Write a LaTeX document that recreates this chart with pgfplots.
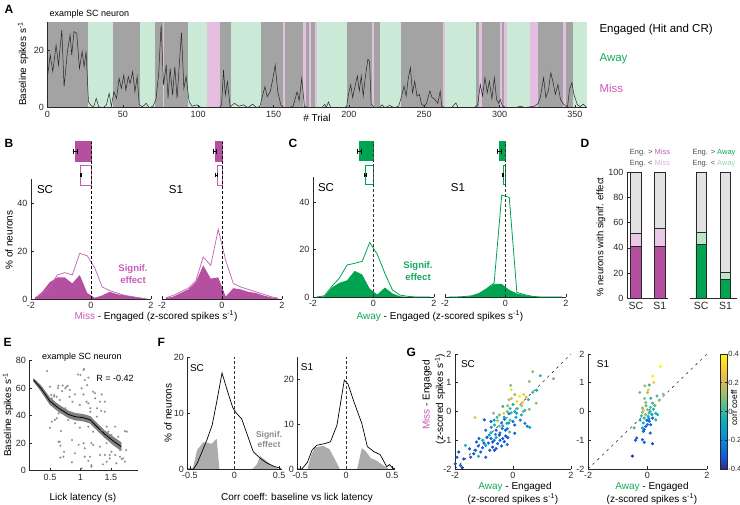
\documentclass[border=0pt]{standalone}
\usepackage{fontspec}
\setmainfont{Liberation Sans}
\usepackage{pgfplots}
\pgfplotsset{compat=1.18}

\definecolor{engray}{RGB}{163,163,163}
\definecolor{awaybg}{RGB}{202,233,214}
\definecolor{missbg}{RGB}{228,191,224}
\definecolor{missdk}{RGB}{181,80,160}
\definecolor{missln}{RGB}{192,95,178}
\definecolor{misslt}{RGB}{232,202,230}
\definecolor{awaydk}{RGB}{0,163,80}
\definecolor{awaylt}{RGB}{190,228,204}
\definecolor{barg}{RGB}{226,226,228}
\definecolor{sigg}{RGB}{172,172,172}
\definecolor{axc}{RGB}{40,40,40}
\definecolor{misstx}{RGB}{200,90,185}
\definecolor{awaytx}{RGB}{20,170,90}
\definecolor{missltx}{RGB}{228,170,222}
\definecolor{awayltx}{RGB}{150,215,175}

\pgfplotsset{
  colormap={parula}{rgb255=(53,42,135) rgb255=(15,92,221) rgb255=(18,125,216) rgb255=(7,156,207) rgb255=(21,177,180) rgb255=(89,189,140) rgb255=(165,190,107) rgb255=(225,185,82) rgb255=(252,206,46) rgb255=(249,251,14)},
  panel/.style={scale only axis, anchor=south west, axis lines=left,
    axis line style={-, axc, line width=0.6pt}, tick align=inside,
    major tick length=2.5pt, tick style={axc, line width=0.6pt},
    ticklabel style={font=\fontsize{9}{10}\selectfont, text=axc},
    /pgf/number format/assume math mode=true, clip=false, enlargelimits=false},
  whisk/.style={black, line width=0.7pt, mark=|, mark size=2.6pt, mark options={solid, line width=0.7pt}},
}
\newcommand\lb{\fontsize{10}{11}\selectfont}
\newcommand\pl{\fontsize{12}{14}\selectfont\bfseries}
\newcommand\band[3]{\addplot[fill=#3, draw=none] coordinates {(#1,0) (#2,0) (#2,29.6) (#1,29.6)} -- cycle;}

\begin{document}
\begin{tikzpicture}[x=1pt,y=1pt]
\path[use as bounding box] (0,0) rectangle (740,505);

% ---------------- A: baseline firing across trials ----------------
\begin{axis}[panel, at={(47.5pt,397.3pt)}, width=539.5pt, height=85.4pt,
  xmin=0, xmax=358, ymin=0, ymax=29.6, xtick={0,50,...,350}, ytick={0,20}, axis on top]
\band{0}{27.1}{engray} \band{27.1}{43.2}{awaybg} \band{43.2}{61.4}{engray}
\band{61.4}{71.3}{awaybg} \band{71.3}{76.4}{engray} \band{76.4}{77.5}{missbg}
\band{77.5}{93.4}{engray} \band{93.4}{105.6}{awaybg} \band{105.6}{114.5}{missbg}
\band{114.5}{121.8}{engray} \band{121.8}{141.7}{awaybg} \band{141.7}{156.5}{engray}
\band{156.5}{157.6}{missbg} \band{157.6}{169.7}{engray} \band{169.7}{171.3}{missbg}
\band{171.3}{173.7}{engray} \band{173.7}{174.6}{missbg} \band{174.6}{177.5}{engray}
\band{177.5}{178.6}{missbg} \band{178.6}{198.5}{awaybg} \band{198.5}{215}{engray}
\band{215}{216.7}{missbg} \band{216.7}{220.6}{engray} \band{220.6}{234.6}{awaybg}
\band{234.6}{262.2}{engray} \band{262.2}{263.8}{missbg} \band{263.8}{284.3}{awaybg}
\band{284.3}{286.2}{engray} \band{286.2}{288}{missbg} \band{288}{300.3}{engray}
\band{300.3}{301.4}{missbg} \band{301.4}{303.2}{engray} \band{303.2}{304.7}{missbg}
\band{304.7}{320.2}{awaybg} \band{320.2}{325.7}{missbg} \band{325.7}{342.3}{engray}
\band{342.3}{344}{missbg} \band{344}{349}{engray} \band{349}{358}{awaybg}
\addplot[black!85, line width=0.5pt] coordinates {
(0,10.7)(1.8,18.3)(3.5,12.5)(5.7,21.7)(7.3,14.8)(9.5,27)(11,7.3)(13.2,19.4)(15,25.2)(16.1,18.3)
(17.6,26.4)(19.4,25.8)(21.2,13.6)(23,19.4)(24.3,14.2)(25.6,19.4)(27.2,2)(28.5,1)(30.5,0)(32.3,3.2)
(34,0.3)(37,0)(39.1,1)(40.9,5)(42.4,0.5)(44,5.5)(45.8,3.2)(47.5,10.2)(49,6.7)(50.6,11.3)
(52,6.1)(53.6,10.8)(54.8,8.4)(56.5,12.5)(58,5.5)(59.5,10.8)(60.9,1)(63,0.3)(65.5,1.5)(67.5,0)
(70,0.5)(72,3)(73.8,12)(75.4,28.7)(77,7.9)(78.8,14.8)(80,3.2)(81.4,13.6)(83,4.4)(84.5,14.2)
(86,3.2)(87.6,16)(88.9,26)(90.5,6.7)(92,10.8)(94,2)(96,0.5)(99,1)(102,0)(106,0)
(110,0)(114,0)(115.5,1)(116.8,13)(118,4.4)(119.4,9)(121.2,0.3)(124,1.5)(127,0.5)(130,1)
(133,0)(136,1.2)(139,0)(141,0.5)(142.8,4.4)(144.3,7.3)(145.8,3.8)(147.8,5.5)(149.6,10.2)(151.1,14.8)
(152.8,5.5)(154.8,1)(157,0)(160,0)(163,0.5)(165.6,5.5)(167,2.5)(168.7,10.2)(170.5,0.5)(173,0)
(178,0)(182,0)(184.1,1.2)(185,0)(186.4,2)(188,0)(192,0)(197,0)(198.5,0.5)(199.7,4.6)
(201.2,8)(202.5,3.5)(204.1,7.5)(205.6,11)(206.9,5.8)(208.2,11)(209.5,4)(211,11)(212.6,16.8)(213.7,16)
(214.8,1.2)(217,0)(220,0)(222,1)(224,0)(227,0.8)(230,0)(233,0.5)(235,4)(236.6,7.5)
(238,4)(239.3,9.8)(240.8,13.9)(242.2,5.2)(243.7,9.2)(245.2,4)(246.8,4.6)(248.2,1.2)(250,0.5)(251.5,1.5)
(253.7,5.8)(255.2,3.5)(257,2.9)(259,1.5)(260.6,5.8)(261.6,0.5)(264,0)(268,0)(271,1.7)(272.5,0)
(278,0)(283,0)(285.5,1)(287.2,8)(288.7,4)(290.3,10.4)(291.8,5.2)(293.2,9.2)(294.9,3)(296.5,10.4)
(298,2.9)(299.5,1.5)(300.4,2.9)(302,0.5)(305,0)(310,0)(314,0.5)(317,0)(320,0.3)(323,0.5)
(325.5,1.4)(327,3.5)(329.2,10.4)(330.7,3.5)(332.3,5.8)(334,12.1)(335.5,8.7)(337,4.6)(338.7,8)(340.4,2.9)
(342,1.5)(344,0.5)(345,0)(346.4,6.4)(348,8.7)(349.3,4.6)(351.5,1.2)(353.5,0.3)(355.5,1.2)(357.5,0.3)};
\end{axis}

% ---------------- B: Miss - Engaged ----------------
\begin{axis}[panel, at={(31pt,206pt)}, width=120pt, height=120pt,
  xmin=-2, xmax=2, ymin=0, ymax=50, xtick={-2,0,2}, ytick={0,20,40}]
\addplot[fill=missdk, draw=none] coordinates {(-1.875,0.3)(-1.625,3)(-1.375,7)(-1.125,9)(-0.875,9)(-0.625,6.5)(-0.375,10)(-0.125,2.5)(0.125,0.5)(0.375,1.5)(0.625,3)(0.875,2)(1.125,1.5)(1.375,1)(1.625,0.5)(1.875,0)} \closedcycle;
\addplot[missln, line width=0.7pt] coordinates {(-1.875,0.5)(-1.625,2)(-1.375,5)(-1.125,10)(-0.875,11)(-0.625,10)(-0.375,19)(-0.125,18)(0.125,13)(0.375,5)(0.625,3.5)(0.875,2.5)(1.125,1.5)(1.375,1)(1.625,0.5)(1.875,0)};
\addplot[fill=missdk, draw=missdk, line width=0.6pt] coordinates {(-0.53,57.5)(0,57.5)(0,65.5)(-0.53,65.5)} -- cycle;
\addplot[fill=white, draw=missln, line width=0.6pt] coordinates {(-0.34,47.5)(0,47.5)(0,55.5)(-0.34,55.5)} -- cycle;
\addplot[whisk] coordinates {(-0.6,61.5)(-0.46,61.5)};
\addplot[whisk, mark size=2pt] coordinates {(-0.37,51.5)(-0.31,51.5)};
\addplot[black, line width=0.6pt, dash pattern=on 3pt off 2pt] coordinates {(0,0)(0,65.5)};
\end{axis}
\begin{axis}[panel, at={(162pt,206pt)}, width=120pt, height=120pt,
  xmin=-2, xmax=2, ymin=0, ymax=50, xtick={-2,0,2}, hide y axis]
\addplot[fill=missdk, draw=none] coordinates {(-1.875,0.3)(-1.625,1)(-1.375,2.5)(-1.125,4)(-0.875,7)(-0.625,14)(-0.375,8.5)(-0.125,9)(0.125,1)(0.375,4.5)(0.625,4)(0.875,3)(1.125,2.5)(1.375,1.5)(1.625,0.7)(1.875,0.2)} \closedcycle;
\addplot[missln, line width=0.7pt] coordinates {(-1.875,0.5)(-1.625,1.5)(-1.375,3)(-1.125,4.5)(-0.875,7.5)(-0.625,17.5)(-0.375,14)(-0.125,29)(0.125,16)(0.375,6.5)(0.625,5)(0.875,4)(1.125,3)(1.375,2)(1.625,1)(1.875,0.3)};
\addplot[fill=missdk, draw=missdk, line width=0.6pt] coordinates {(-0.23,57.5)(0,57.5)(0,65.5)(-0.23,65.5)} -- cycle;
\addplot[fill=white, draw=missln, line width=0.6pt] coordinates {(-0.17,47.5)(0,47.5)(0,55.5)(-0.17,55.5)} -- cycle;
\addplot[whisk] coordinates {(-0.3,61.5)(-0.18,61.5)};
\addplot[whisk, mark size=2pt] coordinates {(-0.21,51.5)(-0.15,51.5)};
\addplot[black, line width=0.6pt, dash pattern=on 3pt off 2pt] coordinates {(0,0)(0,65.5)};
\end{axis}

% ---------------- C: Away - Engaged ----------------
\begin{axis}[panel, at={(313pt,208pt)}, width=121pt, height=120pt,
  xmin=-2, xmax=2, ymin=0, ymax=50.6, xtick={-2,0,2}, ytick={0,20,40}]
\addplot[fill=awaydk, draw=none] coordinates {(-1.875,0)(-1.625,0.3)(-1.375,4)(-1.125,6)(-0.875,7)(-0.625,11)(-0.375,9.5)(-0.125,3.5)(0.125,1)(0.375,4)(0.625,1.5)(0.875,0.3)(1.125,0)(1.375,0)(1.625,0)(1.875,0)} \closedcycle;
\addplot[awaydk, line width=0.8pt] coordinates {(-1.875,0)(-1.625,0.5)(-1.375,4.5)(-1.125,8)(-0.875,13.5)(-0.625,14.2)(-0.375,15)(-0.125,23)(0.125,18)(0.375,10)(0.625,3)(0.875,0.8)(1.125,0.3)(1.375,0)(1.625,0)(1.875,0)};
\addplot[fill=awaydk, draw=awaydk, line width=0.6pt] coordinates {(-0.47,57.5)(0,57.5)(0,65.5)(-0.47,65.5)} -- cycle;
\addplot[fill=white, draw=awaydk, line width=0.6pt] coordinates {(-0.27,47.5)(0,47.5)(0,55.5)(-0.27,55.5)} -- cycle;
\addplot[whisk] coordinates {(-0.54,61.5)(-0.4,61.5)};
\addplot[whisk, mark size=2pt] coordinates {(-0.3,51.5)(-0.24,51.5)};
\addplot[black!80, line width=0.6pt, dash pattern=on 3pt off 2pt] coordinates {(0,0)(0,65.5)};
\end{axis}
\begin{axis}[panel, at={(445pt,208pt)}, width=121pt, height=120pt,
  xmin=-2, xmax=2, ymin=0, ymax=50.6, xtick={-2,0,2}, hide y axis]
\addplot[fill=awaydk, draw=none] coordinates {(-1.875,0)(-1.625,0)(-1.375,0.1)(-1.125,0.4)(-0.875,1.5)(-0.625,3.5)(-0.375,5.5)(-0.125,5.5)(0.125,3)(0.375,1.5)(0.625,0.8)(0.875,0.3)(1.125,0.1)(1.375,0)(1.625,0)(1.875,0)} \closedcycle;
\addplot[awaydk, line width=0.8pt] coordinates {(-1.875,0)(-1.625,0)(-1.375,0.2)(-1.125,0.5)(-0.875,1.5)(-0.625,3.5)(-0.375,6)(-0.125,43)(0.125,42)(0.375,2)(0.625,1)(0.875,0.3)(1.125,0)(1.375,0)(1.625,0)(1.875,0)};
\addplot[fill=awaydk, draw=awaydk, line width=0.6pt] coordinates {(-0.2,57.5)(0,57.5)(0,65.5)(-0.2,65.5)} -- cycle;
\addplot[fill=white, draw=awaydk, line width=0.6pt] coordinates {(-0.08,47.5)(0,47.5)(0,55.5)(-0.08,55.5)} -- cycle;
\addplot[whisk] coordinates {(-0.26,61.5)(-0.15,61.5)};
\addplot[whisk, mark size=2pt] coordinates {(-0.12,51.5)(-0.07,51.5)};
\addplot[black!80, line width=0.6pt, dash pattern=on 3pt off 2pt] coordinates {(0,0)(0,65.5)};
\end{axis}

% ---------------- D: fraction of neurons with significant effect ----------------
\begin{axis}[panel, at={(627pt,206.7pt)}, width=41pt, height=126pt,
  ybar stacked, bar width=10.5pt, xmin=0.62, xmax=2.35, ymin=0, ymax=100,
  ytick={0,20,...,100}, xtick={1,2}, xticklabels={SC,S1},
  xticklabel style={font=\fontsize{10.5}{11}\selectfont},
  major x tick style={draw=none}]
\addplot[fill=missdk, draw=axc, line width=0.7pt] coordinates {(1,41)(2,41)};
\addplot[fill=misslt, draw=axc, line width=0.7pt] coordinates {(1,10.6)(2,14.5)};
\addplot[fill=barg, draw=axc, line width=0.7pt] coordinates {(1,48.4)(2,44.5)};
\end{axis}
\begin{axis}[panel, at={(690pt,206.7pt)}, width=47pt, height=126pt,
  ybar stacked, bar width=10.5pt, xmin=0.54, xmax=2.47, ymin=0, ymax=100,
  hide y axis, xtick={1,2}, xticklabels={SC,S1},
  xticklabel style={font=\fontsize{10.5}{11}\selectfont},
  major x tick style={draw=none}]
\addplot[fill=awaydk, draw=axc, line width=0.7pt] coordinates {(1,42.9)(2,15.3)};
\addplot[fill=awaylt, draw=axc, line width=0.7pt] coordinates {(1,9.5)(2,5)};
\addplot[fill=barg, draw=axc, line width=0.7pt] coordinates {(1,47.6)(2,79.7)};
\end{axis}

% ---------------- E: baseline vs lick latency, example neuron ----------------
\begin{axis}[panel, at={(29.3pt,34.3pt)}, width=109pt, height=110pt,
  xmin=0.16, xmax=1.95, ymin=0, ymax=80, xtick={0.5,1,1.5}, ytick={0,20,...,80}]
\addplot[only marks, mark=*, mark size=0.85pt, gray!85, mark options={draw=none, fill=gray!85}] table {
0.45 72.5
1.06 74
1.13 67.7
0.96 70
0.50 61
0.64 61.8
0.75 60
0.79 61.8
0.70 57.9
0.57 55
0.61 53.8
0.53 52.6
0.66 51.4
0.83 58.7
0.91 55.5
1.02 59.9
1.05 55.5
1.21 57.5
1.24 52.6
1.35 55.5
1.40 50.2
1.10 50.2
0.99 47.8
1.16 45.4
1.27 45.4
1.34 43.4
1.40 42.9
0.75 45.4
0.64 41.7
0.58 36.9
0.53 35.7
0.80 36.9
0.91 34.5
0.99 31.3
1.13 32
1.21 28.4
1.35 29.6
1.46 28.4
1.51 26
1.73 28.8
1.62 24.7
0.50 31.3
0.68 28.8
0.64 21.1
0.67 18.2
0.86 22.3
0.97 18.7
1.05 20
1.18 20
1.21 18.7
1.32 17.5
1.43 20
1.51 13.8
1.40 11.4
1.57 11.4
1.65 15
1.68 8.5
1.73 6.6
0.73 13.8
0.67 9.5
0.91 12.6
1.07 10.2
1.13 7.1
1.18 4.1
1.02 1.7
1.32 11.4
1.48 9
1.37 4.6
1.59 5.4
0.86 6.1
0.52 55
0.57 54
0.63 60
0.71 62
0.77 61
0.82 53.8
0.87 50.2
0.61 38.1
0.66 21.1
0.72 10.2
1.07 16.3
1.16 10.2
1.18 2.9
1.43 6.5
1.48 11.4
1.65 10.2
1.70 9
1.75 15
1.76 28.4
1.57 32
1.43 32
1.13 49
1.16 42.9
1.27 39.3
1.32 50.2
1.24 56.3
1.11 62.3
1.05 73.2
1.00 69.6
1.07 66
};
\addplot[fill=black!55, draw=black!60, line width=0.3pt, opacity=0.9] coordinates {
(0.23,67)(0.35,62)(0.5,53)(0.64,48)(0.8,43.5)(0.91,41.8)(1.05,41)(1.16,39.5)(1.27,34.5)(1.4,29)(1.54,24.5)(1.67,20.5)
(1.67,14.5)(1.54,18.7)(1.4,24)(1.27,29.5)(1.16,34.5)(1.05,36)(0.91,36.8)(0.8,38.5)(0.64,43)(0.5,48)(0.35,58)(0.23,65)} -- cycle;
\addplot[black, line width=0.8pt] coordinates {(0.23,66)(0.35,60)(0.5,50.5)(0.64,45.5)(0.8,41)(0.91,39.3)(1.05,38.5)(1.16,37)(1.27,32)(1.4,26.5)(1.54,21.6)(1.67,17.5)};
\end{axis}

% ---------------- F: distribution of correlation coefficients ----------------
\begin{axis}[panel, at={(187.3pt,36pt)}, width=94.4pt, height=111.7pt,
  xmin=-0.53, xmax=0.53, ymin=0, ymax=20, xtick={-0.5,0,0.5}, ytick={0,10,20}]
\addplot[fill=sigg, draw=none] coordinates {(-0.47,0)(-0.42,3.4)(-0.35,4.8)(-0.3,4.7)(-0.26,4.5)(-0.2,5.4)(-0.17,0)} -- cycle;
\addplot[fill=sigg, draw=none] coordinates {(0.2,0)(0.25,0.8)(0.29,2.3)(0.36,1.4)(0.44,0.4)(0.5,0)} -- cycle;
\addplot[black, line width=0.7pt] coordinates {(-0.52,0)(-0.46,0)(-0.42,1)(-0.38,2.5)(-0.31,5.2)(-0.25,7.9)(-0.2,12)(-0.14,17.2)(-0.08,14)(-0.02,11)(0.02,10)(0.08,9)(0.14,6.3)(0.21,3.1)(0.29,1.9)(0.36,1.1)(0.44,0.5)(0.52,0.1)};
\addplot[black!80, line width=0.6pt, dash pattern=on 3pt off 2pt] coordinates {(0,0)(0,20)};
\end{axis}
\begin{axis}[panel, at={(297.3pt,36pt)}, width=97.7pt, height=111.7pt,
  xmin=-0.53, xmax=0.53, ymin=0, ymax=25, xtick={-0.5,0,0.5}, ytick={0,10,20}]
\addplot[fill=sigg, draw=none] coordinates {(-0.42,0)(-0.38,3.1)(-0.34,4.8)(-0.25,5.2)(-0.18,4.4)(-0.1,1.3)(-0.07,0)} -- cycle;
\addplot[fill=sigg, draw=none] coordinates {(0.12,0)(0.17,4.7)(0.21,4)(0.27,2.4)(0.32,2)(0.37,1.3)(0.44,0.3)(0.46,0)} -- cycle;
\addplot[black, line width=0.7pt] coordinates {(-0.52,0)(-0.48,0)(-0.42,1.5)(-0.37,4.2)(-0.32,5.3)(-0.23,5.7)(-0.17,6.1)(-0.1,9.8)(-0.02,19.9)(0.02,19)(0.08,15.3)(0.17,10.2)(0.23,5)(0.3,3.9)(0.37,3.2)(0.44,0.5)(0.47,1)(0.5,0.3)(0.53,0)};
\addplot[black!80, line width=0.6pt, dash pattern=on 3pt off 2pt] coordinates {(0,0)(0,25)};
\end{axis}

% ---------------- G: Miss vs Away effects, coloured by correlation ----------------
\begin{axis}[panel, at={(455pt,36pt)}, width=116pt, height=115pt,
  xmin=-2, xmax=2, ymin=-2, ymax=2, xtick={-2,0,2}, ytick={-2,-1,0,1,2},
  colormap name=parula, point meta min=-0.4, point meta max=0.4]
\addplot[black!80, line width=0.6pt, dash pattern=on 2.5pt off 4pt] coordinates {(-2,-2)(2,2)};
\addplot[scatter, only marks, mark=*, mark size=1.35pt, point meta=explicit,
  scatter/use mapped color={draw=mapped color, fill=mapped color}] table[meta=c] {
x y c
0.68 1.38 0.12
0.56 1.04 0.1
0.94 1.24 -0.02
1.40 1.14 0.08
-0.08 0.91 0.1
-0.06 0.76 0.35
0.68 0.67 0.0
0.82 0.74 -0.05
0.23 0.53 0.38
0.37 0.59 0.3
0.06 0.59 0.12
-0.14 0.41 0.15
0.14 0.35 0.32
0.33 0.32 0.25
0.53 0.41 -0.02
0.80 0.29 0.1
0.0 0.24 -0.05
-0.18 0.2 0.1
-0.35 0.18 0.0
0.56 0.08 0.08
0.41 0.04 -0.02
0.06 0.0 -0.05
-0.06 -0.04 0.0
0.12 -0.06 -0.08
-0.14 -0.08 -0.25
0.29 -0.12 -0.05
-0.67 -0.06 0.1
-0.47 -0.12 0.08
-0.32 -0.06 0.3
-1.31 -0.21 0.25
-0.99 -0.29 -0.3
-0.76 -0.35 -0.28
-0.53 -0.32 0.12
-0.29 -0.27 -0.3
-0.21 -0.41 -0.05
0.0 -0.35 -0.28
0.06 -0.47 -0.3
0.41 -0.41 -0.25
0.49 -0.51 -0.2
0.58 -0.55 -0.1
-0.64 -0.47 -0.05
-0.47 -0.51 0.1
-0.37 -0.59 -0.28
-0.26 -0.65 -0.3
-0.58 -0.65 -0.32
-0.76 -0.74 -0.05
-0.94 -0.65 -0.25
-0.12 -0.71 0.05
0.06 -0.76 -0.3
-0.18 -0.91 -0.32
-0.47 -0.82 -0.35
-0.35 -0.94 -0.3
-0.58 -0.91 -0.08
-0.76 -0.94 -0.3
-0.82 -0.82 -0.1
-1.05 -1.0 -0.05
-1.17 -0.94 -0.28
-1.26 -1.06 -0.3
-0.70 -1.06 -0.35
-0.53 -1.12 -0.3
-0.70 -1.24 -0.32
-0.94 -1.18 -0.08
-1.05 -1.26 -0.3
-0.58 -1.29 -0.28
-0.64 -1.35 -0.35
-1.11 -1.41 -0.3
-1.29 -1.35 -0.3
-1.35 -1.47 -0.35
-1.64 -1.18 -0.05
-1.46 -1.59 -0.3
-1.70 -1.65 -0.35
-1.87 -1.41 -0.35
-1.93 -1.59 -0.3
-1.99 -1.82 -0.35
-1.81 -1.88 -0.3
-1.75 -1.96 -0.4
-0.94 -1.59 -0.3
-1.19 -1.56 -0.05
-0.3 -0.2 -0.1
-0.4 -0.4 -0.2
-0.1 -0.3 0.0
-0.2 -0.6 -0.25
-0.45 -0.75 -0.3
-0.6 -0.8 -0.2
-0.3 -1.05 -0.3
-0.45 -1.0 -0.28
-0.85 -1.1 -0.3
-0.9 -0.9 -0.32
-0.2 0.0 0.05
0.15 0.1 0.02
0.3 0.2 0.15
-0.55 -0.2 0.0
-0.75 -0.55 -0.2
-1.0 -1.1 -0.33
-0.4 -1.2 -0.3
-0.15 -0.4 -0.15
0.1 -0.2 -0.1
-0.05 0.45 0.2
0.45 0.5 0.2
-0.25 -0.85 -0.35
-0.65 -1.0 -0.25
-1.2 -1.2 -0.3
-1.5 -1.3 -0.3
0.25 -0.3 -0.2
-0.1 0.1 0.0
-0.35 -0.5 -0.1
-0.8 -1.35 -0.32
-0.2 -1.15 -0.28
0.35 0.0 0.05
-0.65 -0.3 -0.15
};
\end{axis}
\begin{axis}[panel, at={(588pt,36pt)}, width=119pt, height=115pt,
  xmin=-2, xmax=2, ymin=-2, ymax=2, xtick={-2,0,2}, ytick={-2,-1,0,1,2},
  colormap name=parula, point meta min=-0.4, point meta max=0.4,
  colorbar, colorbar style={at={(parent axis.north east)}, xshift=4.7pt, anchor=north west,
    width=6.6pt, height=115pt, ytick={-0.4,-0.2,0,0.2,0.4}, tick align=inside,
    major tick length=2pt, tick style={axc, line width=0.5pt},
    yticklabel style={font=\fontsize{7.5}{8}\selectfont, text=axc, xshift=-2pt},
    /pgf/number format/assume math mode=true, axis line style={axc, line width=0.5pt}}]
\addplot[black!80, line width=0.6pt, dash pattern=on 2.5pt off 4pt] coordinates {(-2,-2)(2,2)};
\addplot[scatter, only marks, mark=*, mark size=1.35pt, point meta=explicit,
  scatter/use mapped color={draw=mapped color, fill=mapped color}] table[meta=c] {
x y c
0.43 1.57 0.4
0.17 1.23 0.38
0.21 1.01 0.28
0.06 0.92 0.0
-0.09 0.89 0.1
0.03 0.75 0.3
0.0 0.66 0.15
-0.26 0.66 0.1
0.32 0.54 0.0
0.53 0.6 0.1
0.11 0.46 -0.02
0.4 0.4 0.1
-0.06 0.31 0.08
0.17 0.29 0.0
-0.17 0.12 0.1
-0.14 0.04 0.25
0.0 0.06 0.1
-0.17 -0.03 0.12
0.09 0.0 -0.02
0.2 0.08 -0.05
0.28 -0.06 -0.03
0.34 -0.11 -0.05
-0.06 -0.11 0.1
0.02 -0.17 -0.05
0.17 -0.23 -0.3
0.28 -0.29 -0.05
-0.11 -0.23 -0.05
-0.02 -0.31 -0.3
0.06 -0.34 -0.3
0.11 -0.46 -0.3
-0.14 -0.40 -0.05
-0.06 -0.52 -0.28
-0.17 -0.57 -0.05
-0.45 -0.57 0.0
-0.11 -0.63 -0.3
-0.14 -0.69 -0.3
0.09 -0.75 -0.3
-0.36 -0.92 -0.3
-0.40 -1.0 -0.32
-0.17 -0.98 -0.3
-0.11 -1.07 -0.32
0.17 -1.12 -0.35
-0.51 -1.55 -0.4
0.05 -0.05 0.0
-0.05 0.2 0.05
0.15 -0.1 -0.1
-0.2 -0.15 0.0
0.1 0.15 0.05
0.0 -0.45 -0.25
-0.25 -0.3 -0.1
0.25 0.2 0.05
-0.1 0.45 0.1
0.05 -0.25 -0.2
};
\end{axis}

% ---------------- text ----------------
\node[anchor=west, font=\pl] at (1,496) {A};
\node[anchor=west, font=\fontsize{9}{10}\selectfont] at (46,491) {example SC neuron};
\node[rotate=90, font=\lb] at (23,441) {Baseline spikes s\textsuperscript{-1}};
\node[font=\lb] at (317,387) {\# Trial};
\node[anchor=west, font=\fontsize{11.5}{12}\selectfont] at (596,475) {Engaged (Hit and CR)};
\node[anchor=west, font=\fontsize{11.5}{12}\selectfont, text=awaytx] at (596,446) {Away};
\node[anchor=west, font=\fontsize{11.5}{12}\selectfont, text=misstx] at (596,417) {Miss};

\node[anchor=west, font=\pl] at (1,362) {B};
\node[anchor=west, font=\pl] at (285,362) {C};
\node[anchor=west, font=\pl] at (577,362) {D};
\node[font=\fontsize{11.5}{12}\selectfont] at (45,315) {SC};
\node[font=\fontsize{11.5}{12}\selectfont] at (176,315) {S1};
\node[font=\fontsize{11.5}{12}\selectfont] at (326,317) {SC};
\node[font=\fontsize{11.5}{12}\selectfont] at (458,317) {S1};
\node[align=center, font=\fontsize{9.5}{11.5}\selectfont\bfseries, text=misstx] at (133,231) {Signif.\\effect};
\node[align=center, font=\fontsize{9.5}{11.5}\selectfont\bfseries, text=awaytx] at (418,234) {Signif.\\effect};
\node[font=\lb] at (156,189) {\textcolor{misstx}{Miss} - Engaged (z-scored spikes s\textsuperscript{-1})};
\node[font=\lb] at (440,189) {\textcolor{awaytx}{Away} - Engaged (z-scored spikes s\textsuperscript{-1})};
\node[rotate=90, font=\lb] at (9,265) {\% of neurons};

\node[font=\fontsize{7.5}{8}\selectfont, text=black!70] at (650,352) {Eng. > \textcolor{misstx}{Miss}};
\node[font=\fontsize{7.5}{8}\selectfont, text=black!70] at (650,341) {Eng. < \textcolor{missltx}{Miss}};
\node[font=\fontsize{7.5}{8}\selectfont, text=black!70] at (714,352) {Eng. > \textcolor{awaytx}{Away}};
\node[font=\fontsize{7.5}{8}\selectfont, text=black!70] at (714,341) {Eng. < \textcolor{awayltx}{Away}};
\node[rotate=90, font=\fontsize{9.5}{10}\selectfont] at (601,268) {\% neurons with signif. effect};

\node[anchor=west, font=\pl] at (0,163) {E};
\node[anchor=west, font=\pl] at (154,163) {F};
\node[anchor=west, font=\pl] at (403,153) {G};
\node[font=\fontsize{9}{10}\selectfont] at (82,148) {example SC neuron};
\node[font=\fontsize{9}{10}\selectfont] at (115,127) {R = -0.42};
\node[rotate=90, font=\lb] at (8,90) {Baseline spikes s\textsuperscript{-1}};
\node[font=\lb] at (83,7) {Lick latency (s)};

\node[rotate=90, font=\lb] at (168,92) {\% of neurons};
\node[font=\lb] at (297,7) {Corr coeff: baseline vs lick latency};
\node[font=\fontsize{10}{11}\selectfont] at (197,137) {SC};
\node[font=\fontsize{10}{11}\selectfont] at (307,138) {S1};
\node[align=center, font=\fontsize{8.5}{10}\selectfont\bfseries, text=black!45] at (269,66) {Signif.\\effect};

\node[font=\fontsize{10}{11}\selectfont] at (468,141) {SC};
\node[font=\fontsize{10}{11}\selectfont] at (603,141) {S1};
\node[rotate=90, font=\lb] at (427,110) {\textcolor{misstx}{Miss} - Engaged};
\node[rotate=90, font=\lb] at (440,106) {(z-scored spikes s\textsuperscript{-1})};
\node[font=\lb] at (515,18) {\textcolor{awaytx}{Away} - Engaged};
\node[font=\lb] at (513,6) {(z-scored spikes s\textsuperscript{-1})};
\node[font=\lb] at (652,18) {\textcolor{awaytx}{Away} - Engaged};
\node[font=\lb] at (652,6) {(z-scored spikes s\textsuperscript{-1})};
\node[rotate=90, font=\fontsize{8.5}{9}\selectfont] at (734,97) {corr coeff};
\end{tikzpicture}
\end{document}
